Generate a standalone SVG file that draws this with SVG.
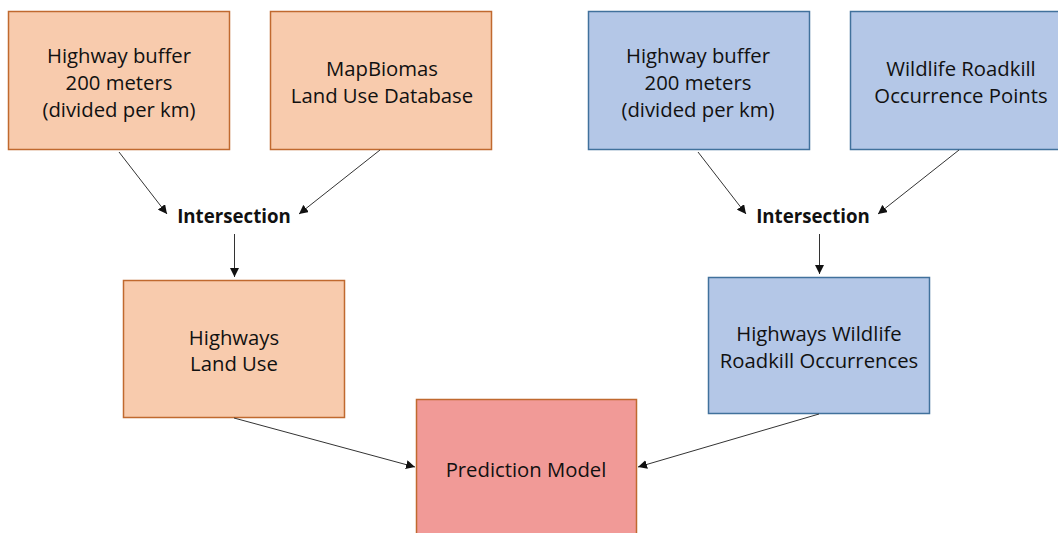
<svg xmlns="http://www.w3.org/2000/svg" width="1058" height="533" viewBox="0 0 1058 533">
<style>
.o{fill:#F8CBAD;stroke:#C0692F;stroke-width:1.5}
.b{fill:#B4C7E7;stroke:#41719C;stroke-width:1.5}
.p{fill:#F19A97;stroke:#C0692F;stroke-width:1.5}
text{font-family:"Open Sans","Liberation Sans",sans-serif;font-size:20.3px;fill:#111;text-anchor:middle;dominant-baseline:central}
.bold{font-weight:bold;font-size:18.7px}
.c{stroke:#333;stroke-width:1;fill:none;marker-end:url(#ah)}
</style>
<defs>
<marker id="ah" viewBox="0 0 10 10" refX="10" refY="5" markerWidth="9" markerHeight="9" markerUnits="userSpaceOnUse" orient="auto">
<path d="M0,0 L10,5 L0,10 z" fill="#111"/>
</marker>
</defs>
<rect width="1058" height="533" fill="#fff"/>
<g id="n1"><rect class="o" x="8.5" y="11.5" width="221" height="138"/><text x="119" y="55">Highway buffer</text><text x="119" y="82">200 meters</text><text x="119" y="109">(divided per km)</text></g>
<g id="n2"><rect class="o" x="270.5" y="11.5" width="221" height="138"/><text x="382" y="68">MapBiomas</text><text x="382" y="95">Land Use Database</text></g>
<g id="n3"><rect class="b" x="588.5" y="11.5" width="221" height="138"/><text x="698" y="55">Highway buffer</text><text x="698" y="82">200 meters</text><text x="698" y="109">(divided per km)</text></g>
<g id="n4"><rect class="b" x="850.5" y="11.5" width="221" height="138"/><text x="961" y="68">Wildlife Roadkill</text><text x="961" y="95">Occurrence Points</text></g>
<g id="i1"><text class="bold" x="234" y="215">Intersection</text></g>
<g id="i2"><text class="bold" x="813" y="215">Intersection</text></g>
<g id="n5"><rect class="o" x="123.5" y="280.5" width="221" height="137"/><text x="234" y="337">Highways</text><text x="234" y="363">Land Use</text></g>
<g id="n6"><rect class="b" x="708.5" y="277.5" width="221" height="136"/><text x="819" y="333">Highways Wildlife</text><text x="819" y="360">Roadkill Occurrences</text></g>
<g id="n7"><rect class="p" x="416.5" y="399.5" width="220" height="140"/><text x="526" y="469">Prediction Model</text></g>
<g id="connectors">
<line class="c" x1="119" y1="152" x2="167" y2="214"/>
<line class="c" x1="380" y1="150" x2="299" y2="214"/>
<line class="c" x1="698" y1="152" x2="746" y2="214"/>
<line class="c" x1="959" y1="150" x2="878" y2="214"/>
<line class="c" x1="234.5" y1="234" x2="234.5" y2="277"/>
<line class="c" x1="819.5" y1="234" x2="819.5" y2="274"/>
<line class="c" x1="234" y1="418" x2="415" y2="467"/>
<line class="c" x1="819" y1="414" x2="638" y2="467"/>
</g>
</svg>
